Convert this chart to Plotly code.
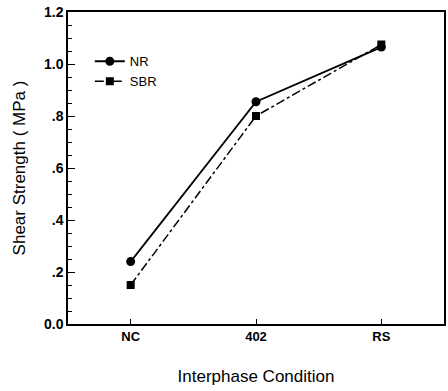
import plotly.graph_objects as go

categories = ["NC", "402", "RS"]
nr_values = [0.24, 0.855, 1.065]
sbr_values = [0.15, 0.80, 1.075]
y_tickvals = [0.0, 0.2, 0.4, 0.6, 0.8, 1.0, 1.2]
y_ticktext = ["0.0", ".2", ".4", ".6", ".8", "1.0", "1.2"]

font = "Liberation Sans, Arial, sans-serif"

fig = go.Figure()
fig.add_trace(go.Scatter(
    x=categories, y=nr_values, name="NR", mode="lines+markers",
    line=dict(color="black", width=1.8, dash="solid"),
    marker=dict(symbol="circle", size=9, color="black"),
))
fig.add_trace(go.Scatter(
    x=categories, y=sbr_values, name="SBR", mode="lines+markers",
    line=dict(color="black", width=1.5, dash="dashdot"),
    marker=dict(symbol="square", size=8, color="black"),
))

fig.update_layout(
    width=448, height=391,
    margin=dict(l=68, r=4, t=12, b=67),
    paper_bgcolor="white", plot_bgcolor="white",
    font=dict(family=font, color="black", size=12),
    showlegend=True,
    legend=dict(x=0.058, y=0.89, xanchor="left", yanchor="top",
                bgcolor="rgba(0,0,0,0)", font=dict(size=13, family=font),
                itemwidth=30, tracegroupgap=0),
    xaxis=dict(
        type="category", range=[-0.5, 2.5], automargin=False,
        showline=True, linecolor="black", linewidth=1.5, mirror=True,
        ticks="inside", ticklen=5, tickcolor="black",
        showgrid=False, zeroline=False,
        tickfont=dict(size=13, family=font, weight="bold"),
        title=dict(text="Interphase Condition", font=dict(size=17, family=font), standoff=27),
    ),
    yaxis=dict(
        range=[0, 1.2], automargin=False, ticklabeloverflow="allow",
        tickvals=y_tickvals, ticktext=y_ticktext,
        showline=True, linecolor="black", linewidth=1.5, mirror=True,
        ticks="inside", ticklen=7, tickcolor="black",
        minor=dict(dtick=0.05, ticks="inside", ticklen=4, tickcolor="black", showgrid=False),
        showgrid=False, zeroline=False,
        tickfont=dict(size=14, family=font, weight="bold"),
        title=dict(text="Shear Strength ( MPa )", font=dict(size=17, family=font), standoff=14),
    ),
)

fig.write_html("out.html", config={"displayModeBar": False},
               post_script="document.body.style.margin='0';")
